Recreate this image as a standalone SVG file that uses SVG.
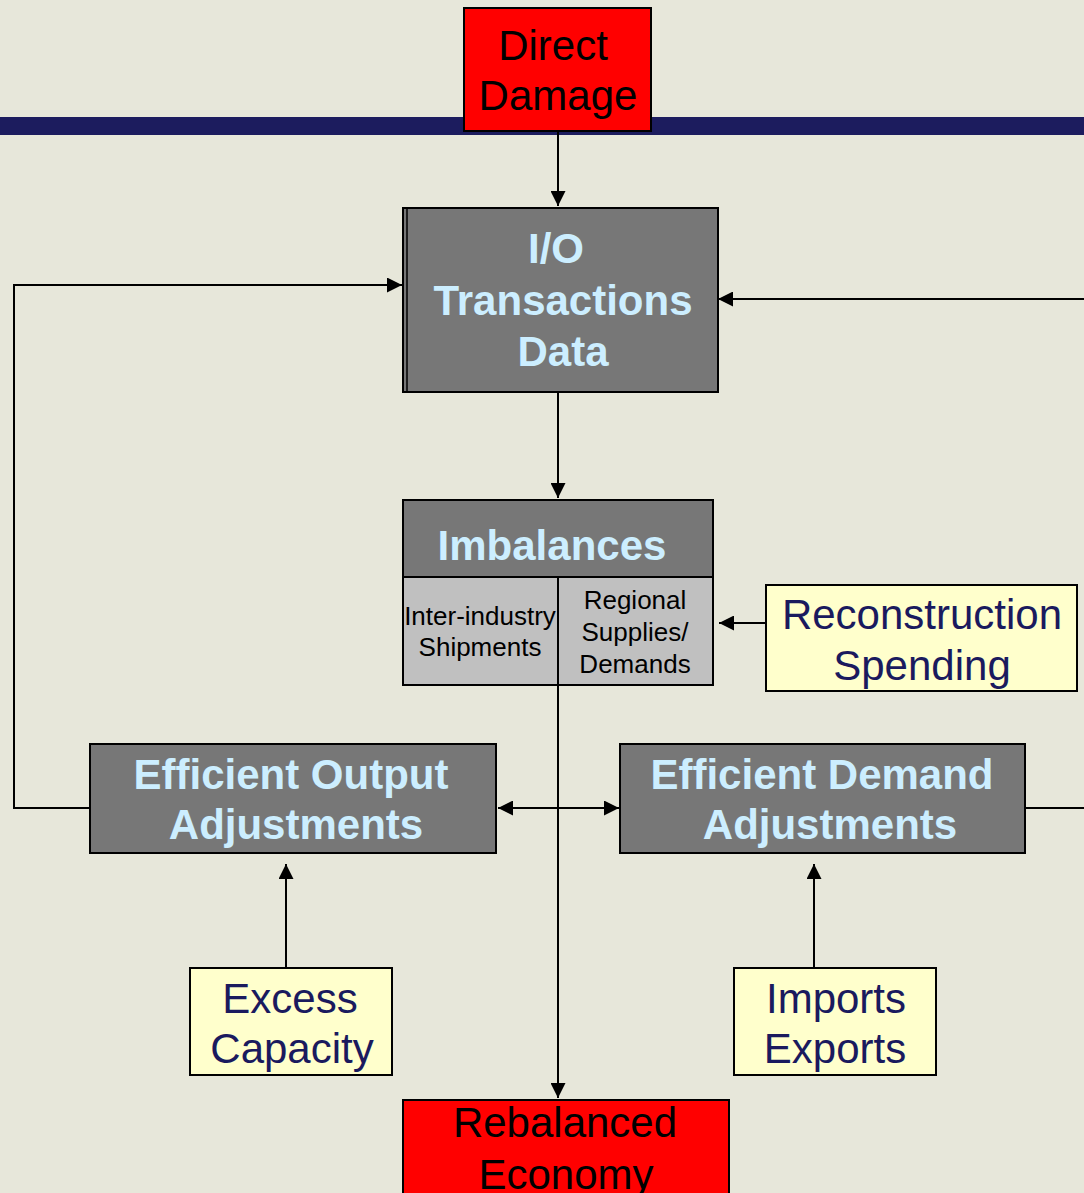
<svg xmlns="http://www.w3.org/2000/svg" width="1084" height="1193" viewBox="0 0 1084 1193">
<defs>
<style>
.bg{fill:#e7e7da}
.bar{fill:#1c1c5e}
.red{fill:#ff0000;stroke:#000;stroke-width:2}
.dark{fill:#777777;stroke:#000;stroke-width:2}
.light{fill:#c0c0c0;stroke:#000;stroke-width:2}
.yel{fill:#ffffcc;stroke:#000;stroke-width:2}
.conn{fill:none;stroke:#000;stroke-width:2}
text{font-family:"Liberation Sans",Arial,sans-serif;text-anchor:middle}
.tb{font-size:42px;fill:#000}
.tw{font-size:42px;font-weight:bold;fill:#cceeff}
.tn{font-size:42px;fill:#1a1a5e}
.ts{font-size:26px;fill:#000}
</style>
<marker id="ah" markerWidth="15" markerHeight="15" refX="15" refY="7.5" orient="auto-start-reverse" markerUnits="userSpaceOnUse">
<path d="M0,0 L15,7.5 L0,15 z" fill="#000"/>
</marker>
</defs>
<rect class="bg" x="0" y="0" width="1084" height="1193"/>
<rect class="bar" x="0" y="117" width="1084" height="18"/>

<g id="connectors">
<path class="conn" d="M558,131 V206" marker-end="url(#ah)"/>
<path class="conn" d="M558,392 V498" marker-end="url(#ah)"/>
<path class="conn" d="M558,685 V1098" marker-end="url(#ah)"/>
<path class="conn" d="M498,808 H619" marker-start="url(#ah)" marker-end="url(#ah)"/>
<path class="conn" d="M766,623 H719" marker-end="url(#ah)"/>
<path class="conn" d="M89,808 H14 V285 H402" marker-end="url(#ah)"/>
<path class="conn" d="M1025,808 H1092 V299 H718" marker-end="url(#ah)"/>
<path class="conn" d="M286,967 V864" marker-end="url(#ah)"/>
<path class="conn" d="M814,967 V864" marker-end="url(#ah)"/>
</g>

<g id="direct-damage">
<rect class="red" x="464" y="8" width="187" height="123"/>
<text class="tb" x="553" y="60">Direct</text>
<text class="tb" x="558" y="110">Damage</text>
</g>

<g id="io-transactions">
<rect class="dark" x="403" y="208" width="315" height="184"/>
<line x1="407" y1="208" x2="407" y2="392" stroke="#000" stroke-width="1.5"/>
<text class="tw" x="556" y="263">I/O</text>
<text class="tw" x="563" y="315">Transactions</text>
<text class="tw" x="563" y="366">Data</text>
</g>

<g id="imbalances">
<rect class="dark" x="403" y="500" width="310" height="77"/>
<rect class="light" x="403" y="577" width="155" height="108"/>
<rect class="light" x="558" y="577" width="155" height="108"/>
<text class="tw" x="552" y="560">Imbalances</text>
<text class="ts" x="480" y="625">Inter-industry</text>
<text class="ts" x="480" y="656">Shipments</text>
<text class="ts" x="635" y="609">Regional</text>
<text class="ts" x="635" y="641">Supplies/</text>
<text class="ts" x="635" y="673">Demands</text>
</g>

<g id="reconstruction-spending">
<rect class="yel" x="766" y="585" width="311" height="106"/>
<text class="tn" x="922" y="629">Reconstruction</text>
<text class="tn" x="922" y="680">Spending</text>
</g>

<g id="efficient-output">
<rect class="dark" x="90" y="744" width="406" height="109"/>
<text class="tw" x="291" y="789">Efficient Output</text>
<text class="tw" x="296" y="839">Adjustments</text>
</g>

<g id="efficient-demand">
<rect class="dark" x="620" y="744" width="405" height="109"/>
<text class="tw" x="822" y="789">Efficient Demand</text>
<text class="tw" x="830" y="839">Adjustments</text>
</g>

<g id="excess-capacity">
<rect class="yel" x="190" y="968" width="202" height="107"/>
<text class="tn" x="290" y="1013">Excess</text>
<text class="tn" x="292" y="1063">Capacity</text>
</g>

<g id="imports-exports">
<rect class="yel" x="734" y="968" width="202" height="107"/>
<text class="tn" x="836" y="1013">Imports</text>
<text class="tn" x="835" y="1063">Exports</text>
</g>

<g id="rebalanced-economy">
<rect class="red" x="403" y="1100" width="326" height="110"/>
<text class="tb" x="565" y="1137">Rebalanced</text>
<text class="tb" x="566" y="1189">Economy</text>
</g>
</svg>
